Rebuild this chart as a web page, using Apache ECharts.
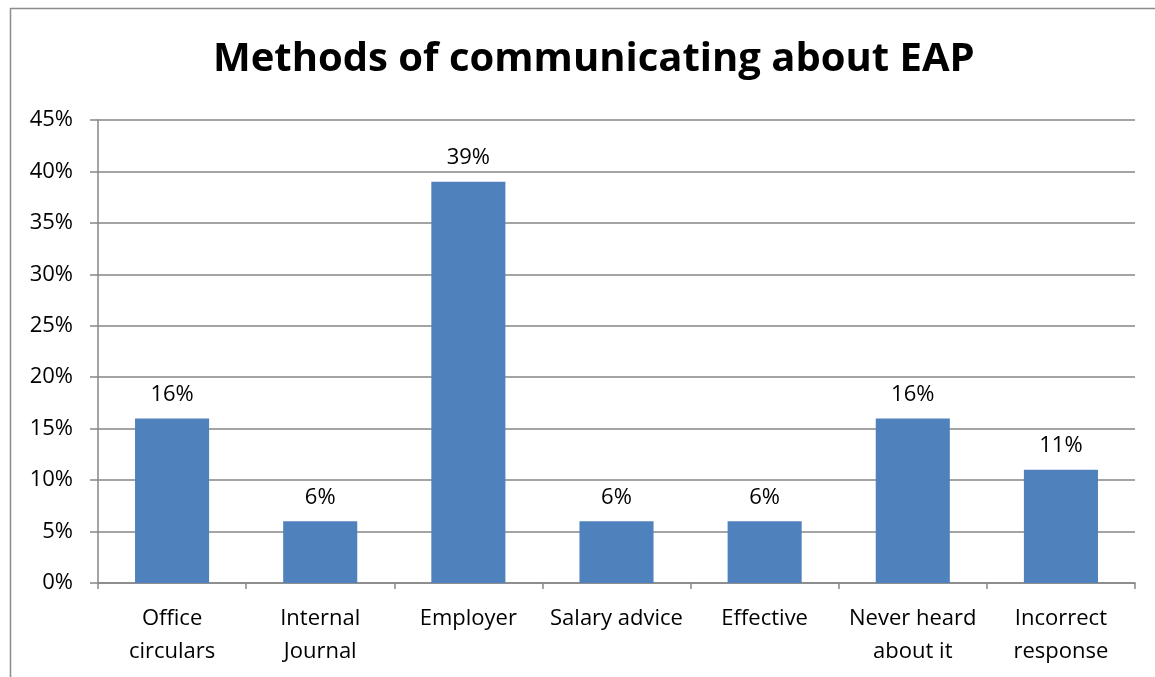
<!DOCTYPE html>
<html>
<head>
<meta charset="utf-8">
<script src="https://cdn.jsdelivr.net/npm/echarts@6/dist/echarts.min.js"></script>
<style>
  html, body { margin: 0; padding: 0; background: #fff; }
  #chart { width: 1155px; height: 677px; }
</style>
</head>
<body>
<div id="chart"></div>
<script>
// Survey answers: how respondents heard about the EAP
const categories = ['Office\ncirculars', 'Internal\nJournal', 'Employer', 'Salary advice', 'Effective', 'Never heard\nabout it', 'Incorrect\nresponse'];
const shares = [16, 6, 39, 6, 6, 16, 11];
const yTicks = { min: 0, max: 45, interval: 5 };

const fontFamily = '"Open Sans", "Liberation Sans", sans-serif';
const gridColor = '#868686';

const chart = echarts.init(document.getElementById('chart'), null, { renderer: 'canvas' });
chart.setOption({
  animation: false,
  backgroundColor: '#ffffff',
  title: {
    text: 'Methods of communicating about EAP',
    left: 208,
    top: 35,
    textStyle: { fontFamily: fontFamily, fontWeight: 'bold', fontSize: 40, color: '#000' }
  },
  graphic: [
    { type: 'line', shape: { x1: 10, y1: 8.5, x2: 1155, y2: 8.5 }, style: { stroke: '#8c8c8c', lineWidth: 1.5 } },
    { type: 'line', shape: { x1: 10.5, y1: 8, x2: 10.5, y2: 677 }, style: { stroke: '#8c8c8c', lineWidth: 1.5 } }
  ],
  grid: { left: 98, right: 20, top: 120, bottom: 94, containLabel: false },
  xAxis: {
    type: 'category',
    data: categories,
    axisLine: { lineStyle: { color: gridColor, width: 1.5 } },
    axisTick: { show: true, alignWithLabel: false, length: 6, lineStyle: { color: gridColor, width: 1.5 } },
    axisLabel: { color: '#000', fontFamily: fontFamily, fontSize: 22, lineHeight: 33, margin: 19, interval: 0 }
  },
  yAxis: {
    type: 'value',
    min: yTicks.min,
    max: yTicks.max,
    interval: yTicks.interval,
    axisLine: { show: true, lineStyle: { color: gridColor, width: 1.5 } },
    axisTick: { show: true, length: 8, lineStyle: { color: gridColor, width: 1.5 } },
    splitLine: { show: true, lineStyle: { color: gridColor, width: 1.5 } },
    axisLabel: { color: '#000', fontFamily: fontFamily, fontSize: 22, margin: 25, formatter: '{value}%' }
  },
  series: [{
    type: 'bar',
    data: shares,
    barWidth: '50%',
    itemStyle: { color: '#4F81BD' },
    label: {
      show: true,
      position: 'top',
      distance: 13,
      formatter: '{c}%',
      color: '#000',
      fontFamily: fontFamily,
      fontSize: 22
    }
  }]
});
</script>
</body>
</html>
